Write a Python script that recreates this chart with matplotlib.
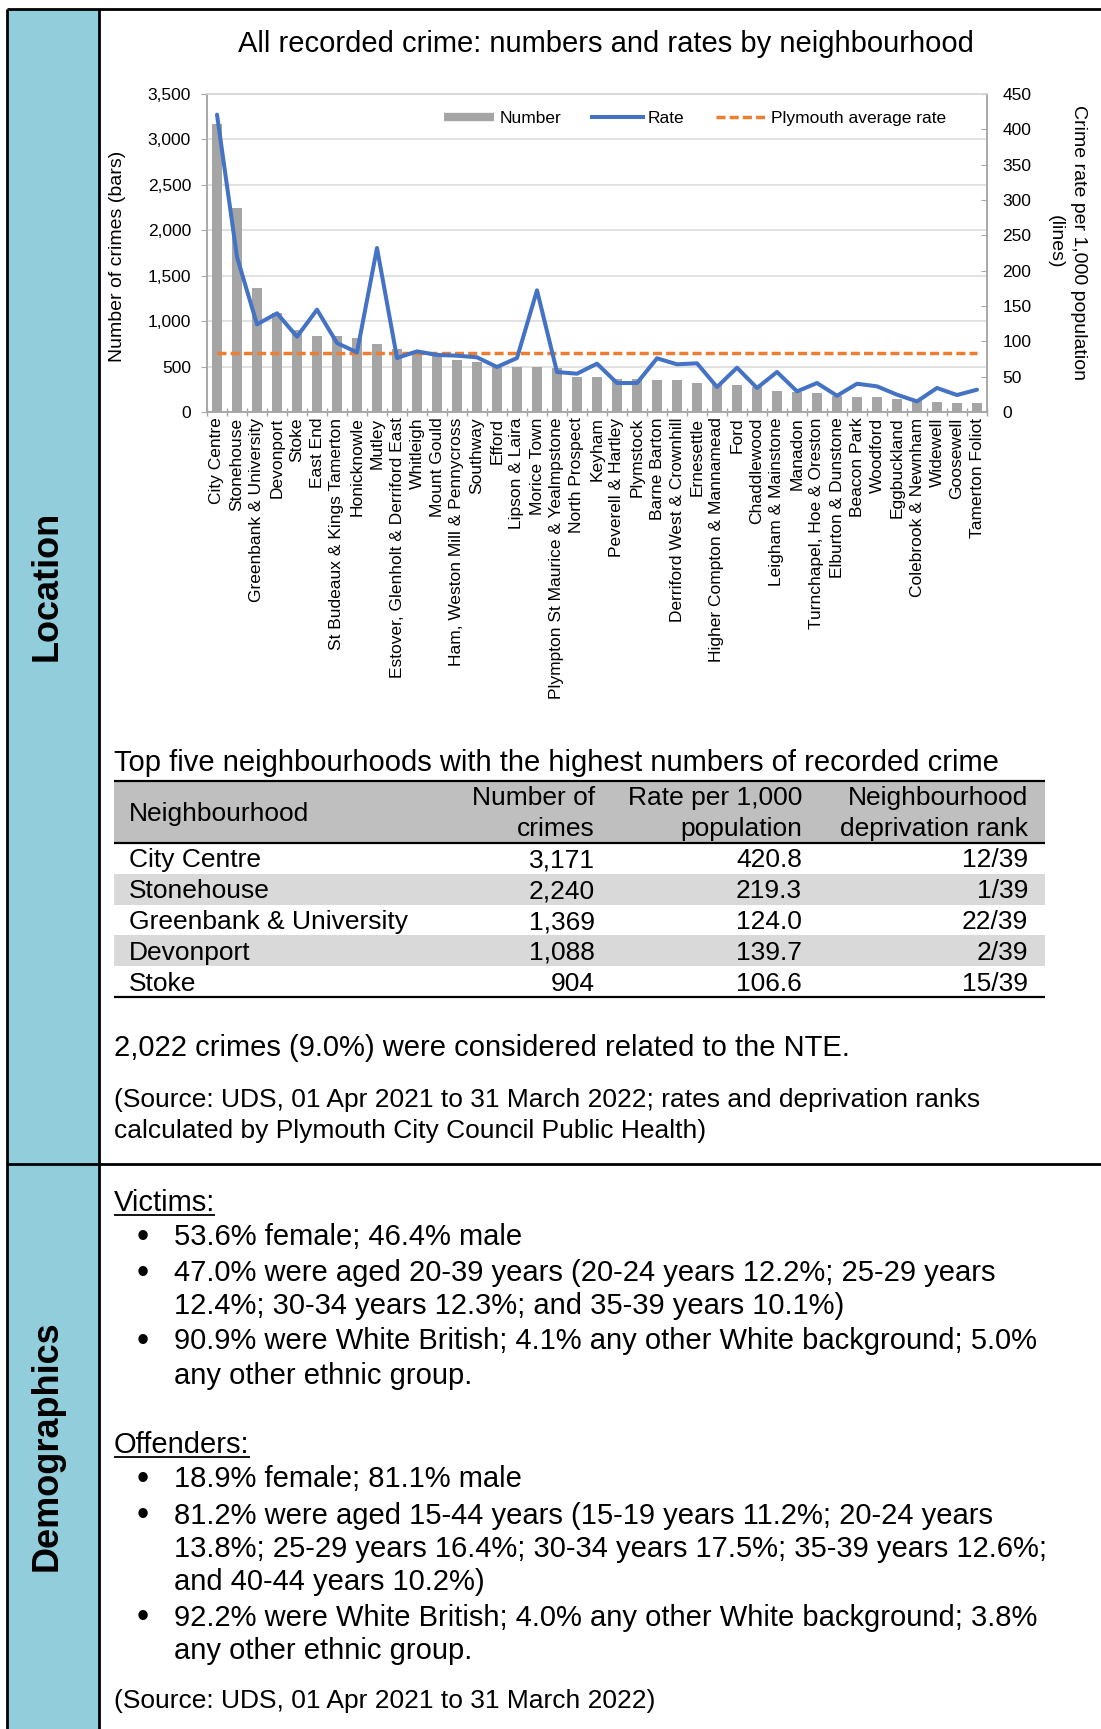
"""
Crime profile panel: neighbourhood bar/line chart plus summary table and text.
"""

import matplotlib

matplotlib.use("Agg")

import matplotlib.pyplot as plt
import numpy as np
from matplotlib.lines import Line2D
from matplotlib.patches import Rectangle
from matplotlib.ticker import FuncFormatter

plt.rcParams["font.family"] = ["Liberation Sans", "DejaVu Sans"]

# ---- chart data -------------------------------------------------------------
neighbourhoods = [
    "City Centre", "Stonehouse", "Greenbank & University", "Devonport", "Stoke",
    "East End", "St Budeaux & Kings Tamerton", "Honicknowle", "Mutley",
    "Estover, Glenholt & Derriford East", "Whitleigh", "Mount Gould",
    "Ham, Weston Mill & Pennycross", "Southway", "Efford", "Lipson & Laira",
    "Morice Town", "Plympton St Maurice & Yealmpstone", "North Prospect", "Keyham",
    "Peverell & Hartley", "Plymstock", "Barne Barton", "Derriford West & Crownhill",
    "Ernesettle", "Higher Compton & Mannamead", "Ford", "Chaddlewood",
    "Leigham & Mainstone", "Manadon", "Turnchapel, Hoe & Oreston",
    "Elburton & Dunstone", "Beacon Park", "Woodford", "Eggbuckland",
    "Colebrook & Newnham", "Widewell", "Goosewell", "Tamerton Foliot",
]
crimes = [
    3171, 2240, 1369, 1088, 904, 840, 838, 818, 745, 693, 660, 625, 570, 548,
    505, 492, 490, 482, 385, 383, 368, 366, 350, 348, 320, 305, 300, 275, 236,
    224, 205, 175, 162, 160, 143, 128, 110, 104, 103,
]
rates = [
    420.8, 219.3, 124.0, 139.7, 106.6, 144.8, 97.6, 84.4, 232.0, 76.4, 85.8,
    80.7, 79.7, 77.4, 63.7, 76.4, 172.2, 56.6, 54.2, 68.4, 41.0, 41.0, 76.0,
    67.5, 68.9, 35.4, 62.7, 34.0, 56.6, 29.2, 41.0, 23.0, 40.0, 36.3, 24.5,
    15.0, 34.0, 24.0, 31.6,
]
plymouth_avg_rate = 84.0

# ---- table data ---------------------------------------------------------------
top5_names = ["City Centre", "Stonehouse", "Greenbank & University", "Devonport", "Stoke"]
top5_crimes = ["3,171", "2,240", "1,369", "1,088", "904"]
top5_rates = ["420.8", "219.3", "124.0", "139.7", "106.6"]
top5_ranks = ["12/39", "1/39", "22/39", "2/39", "15/39"]

victim_lines = [
    ("•", "53.6% female; 46.4% male"),
    ("•", "47.0% were aged 20-39 years (20-24 years 12.2%; 25-29 years"),
    ("", "12.4%; 30-34 years 12.3%; and 35-39 years 10.1%)"),
    ("•", "90.9% were White British; 4.1% any other White background; 5.0%"),
    ("", "any other ethnic group."),
]
offender_lines = [
    ("•", "18.9% female; 81.1% male"),
    ("•", "81.2% were aged 15-44 years (15-19 years 11.2%; 20-24 years"),
    ("", "13.8%; 25-29 years 16.4%; 30-34 years 17.5%; 35-39 years 12.6%;"),
    ("", "and 40-44 years 10.2%)"),
    ("•", "92.2% were White British; 4.0% any other White background; 3.8%"),
    ("", "any other ethnic group."),
]

BLUE_COL = "#92CDDC"
BAR_GREY = "#A5A5A5"
LINE_BLUE = "#4472C4"
ORANGE = "#ED7D31"
AXIS_GREY = "#A6A6A6"
GRID_GREY = "#D9D9D9"

W, H = 1101, 1729
fig = plt.figure(figsize=(W / 100, H / 100), dpi=100)

# background layer in pixel coordinates (y down)
bg = fig.add_axes([0, 0, 1, 1])
bg.set_xlim(0, W)
bg.set_ylim(H, 0)
bg.axis("off")

bg.add_patch(Rectangle((7, 9), 92, H - 9, color=BLUE_COL, lw=0))
for xs, ys in [([7, 7], [9, H]), ([99, 99], [9, H]), ([7, W], [9, 9]), ([7, W], [1164, 1164])]:
    bg.plot(xs, ys, color="black", lw=2, solid_capstyle="butt", clip_on=False)

bg.text(47, 586, "Location", rotation=90, ha="center", va="center",
        fontsize=26, fontweight="bold")
bg.text(47, 1446, "Demographics", rotation=90, ha="center", va="center",
        fontsize=26, fontweight="bold")

# ---- chart ----------------------------------------------------------------------
bg.text(606, 44, "All recorded crime: numbers and rates by neighbourhood",
        ha="center", va="center", fontsize=21)

ax = fig.add_axes([207 / W, 1 - 412 / H, 780 / W, 318 / H])
x = np.arange(len(neighbourhoods))
ax.bar(x, crimes, width=0.5, color=BAR_GREY, zorder=2)
ax.set_xlim(-0.5, len(neighbourhoods) - 0.5)
ax.set_ylim(0, 3500)
ax.set_yticks(np.arange(0, 3501, 500))
ax.yaxis.set_major_formatter(FuncFormatter(lambda v, p: f"{v:,.0f}"))
ax.set_xticks(x)
ax.set_xticklabels(neighbourhoods, rotation=90, fontsize=12.5)
ax.set_xticks(np.arange(-0.5, len(neighbourhoods), 1), minor=True)
ax.tick_params(axis="x", which="major", length=0, pad=4)
ax.tick_params(axis="x", which="minor", length=6, direction="inout",
               color=AXIS_GREY, width=1)
ax.tick_params(axis="y", length=4, direction="out", pad=7.5, labelsize=12.5,
               color=AXIS_GREY)
ax.grid(axis="y", color=GRID_GREY, lw=1.1)
ax.set_axisbelow(True)

ax2 = ax.twinx()
ax2.plot(x, rates, color=LINE_BLUE, lw=2.9, solid_joinstyle="round",
         solid_capstyle="round", zorder=3)
ax2.hlines(plymouth_avg_rate, x[0], x[-1], colors=ORANGE, lw=2.5,
           linestyles=(0, (2.6, 1.2)), zorder=2)
ax2.set_ylim(0, 450)
ax2.set_yticks(np.arange(0, 451, 50))
ax2.tick_params(axis="y", direction="in", length=4, pad=11, labelsize=12.5,
                color=AXIS_GREY)

for a in (ax, ax2):
    for sp in a.spines.values():
        sp.set_color(AXIS_GREY)
        sp.set_linewidth(1.1)
ax.spines["top"].set_color(GRID_GREY)
ax2.spines["top"].set_color(GRID_GREY)

handles = [
    Line2D([], [], color=BAR_GREY, lw=6, solid_capstyle="butt"),
    Line2D([], [], color=LINE_BLUE, lw=2.9),
    Line2D([], [], color=ORANGE, lw=2.5, linestyle=(0, (2.6, 1.2))),
]
ax2.legend(handles, ["Number", "Rate", "Plymouth average rate"], ncol=3,
           loc="center", bbox_to_anchor=(0.6256, 0.9245), frameon=False,
           fontsize=12.5, handlelength=2.9, handletextpad=0.3,
           columnspacing=1.8)

bg.text(118, 256, "Number of crimes (bars)", rotation=90, ha="center",
        va="center", fontsize=14)
bg.text(1067, 242, "Crime rate per 1,000 population\n(lines)", rotation=270,
        ha="center", va="center", multialignment="center", fontsize=14,
        linespacing=1.45)

# ---- table ------------------------------------------------------------------------
bg.text(114, 763, "Top five neighbourhoods with the highest numbers of recorded crime",
        ha="left", va="center", fontsize=21)

tbl_left, tbl_right = 114, 1045
hdr_top, hdr_bot = 781, 843
row_h = (997 - hdr_bot) / len(top5_names)
bg.add_patch(Rectangle((tbl_left, hdr_top), tbl_right - tbl_left, hdr_bot - hdr_top,
                       color="#BFBFBF", lw=0))
for i in range(len(top5_names)):
    if i % 2 == 1:
        bg.add_patch(Rectangle((tbl_left, hdr_bot + i * row_h), tbl_right - tbl_left,
                               row_h, color="#D9D9D9", lw=0))
for yy in (hdr_top, hdr_bot, 997):
    bg.plot([tbl_left, tbl_right], [yy, yy], color="black", lw=1.6,
            solid_capstyle="butt")

col_name, col_crimes, col_rate, col_rank = 129, 595, 802, 1028
fs_tbl = 19
bg.text(col_name, 814, "Neighbourhood", ha="left", va="center", fontsize=fs_tbl)
for cx, l1, l2 in [(col_crimes, "Number of", "crimes"),
                   (col_rate, "Rate per 1,000", "population"),
                   (col_rank, "Neighbourhood", "deprivation rank")]:
    bg.text(cx, 798, l1, ha="right", va="center", fontsize=fs_tbl)
    bg.text(cx, 829, l2, ha="right", va="center", fontsize=fs_tbl)

for i, (nm, cr, rt, rk) in enumerate(zip(top5_names, top5_crimes, top5_rates, top5_ranks)):
    yc = hdr_bot + (i + 0.5) * row_h + 2
    bg.text(col_name, yc, nm, ha="left", va="center", fontsize=fs_tbl)
    bg.text(col_crimes, yc, cr, ha="right", va="center", fontsize=fs_tbl)
    bg.text(col_rate, yc, rt, ha="right", va="center", fontsize=fs_tbl)
    bg.text(col_rank, yc, rk, ha="right", va="center", fontsize=fs_tbl)

bg.text(114, 1048, "2,022 crimes (9.0%) were considered related to the NTE.",
        ha="left", va="center", fontsize=21)
bg.text(114, 1100, "(Source: UDS, 01 Apr 2021 to 31 March 2022; rates and deprivation ranks",
        ha="left", va="center", fontsize=19)
bg.text(114, 1131, "calculated by Plymouth City Council Public Health)",
        ha="left", va="center", fontsize=19)

# ---- demographics -----------------------------------------------------------------
heads = [
    bg.text(114, 1211, "Victims:", ha="left", va="baseline", fontsize=21),
    bg.text(114, 1453, "Offenders:", ha="left", va="baseline", fontsize=21),
]


def bullet_block(lines, ys):
    for (mark, txt), yy in zip(lines, ys):
        if mark:
            bg.text(143, yy, mark, ha="center", va="center", fontsize=25)
        bg.text(174, yy, txt, ha="left", va="center", fontsize=21)


bullet_block(victim_lines, [1237, 1273, 1306, 1341, 1376])
bullet_block(offender_lines, [1479, 1516, 1549, 1582, 1618, 1651])

bg.text(114, 1701, "(Source: UDS, 01 Apr 2021 to 31 March 2022)",
        ha="left", va="center", fontsize=19)

# underline the two headings
renderer = fig.canvas.get_renderer()
for t in heads:
    bb = t.get_window_extent(renderer=renderer)
    yb = t.get_position()[1] + 4
    bg.plot([bb.x0, bb.x1], [yb, yb], color="black", lw=1.3, solid_capstyle="butt")

fig.savefig("out.png", dpi=100)
